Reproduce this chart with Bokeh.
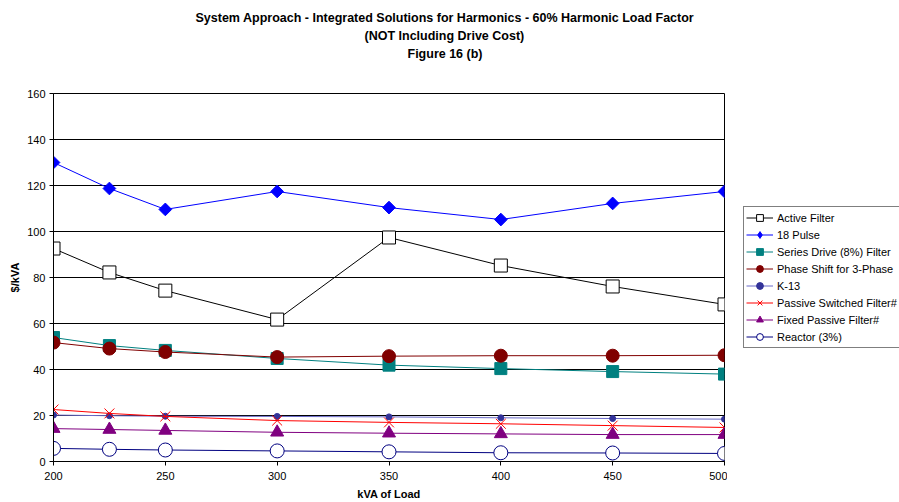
import math
from bokeh.plotting import figure
from bokeh.layouts import row
from bokeh.models import Legend, LegendItem, FixedTicker, Title
from bokeh.embed import file_html
from bokeh.resources import INLINE

kva = [200, 225, 250, 300, 350, 400, 450, 500]
active_filter = [92.6, 82.2, 74.3, 61.7, 97.4, 85.2, 76.1, 68.3]
pulse18 = [130.0, 118.7, 109.6, 117.4, 110.4, 105.2, 112.2, 117.4]
series_drive = [53.9, 50.4, 48.3, 44.8, 41.9, 40.4, 39.1, 38.0]
phase_shift = [51.7, 49.1, 47.6, 45.4, 45.8, 46.0, 46.0, 46.2]
k13 = [20.2, 19.9, 19.7, 19.6, 19.4, 19.0, 18.7, 18.4]
passive_switched = [22.6, 20.9, 19.6, 17.8, 17.0, 16.4, 15.6, 14.8]
fixed_passive = [14.3, 13.9, 13.5, 12.7, 12.3, 12.0, 11.7, 11.7]
reactor = [5.7, 5.3, 5.0, 4.6, 4.2, 3.8, 3.7, 3.5]

y_ticks = [0, 20, 40, 60, 80, 100, 120, 140, 160]
x_ticks = [200, 250, 300, 350, 400, 450, 500]

title_lines = [
    "System Approach - Integrated Solutions for Harmonics - 60% Harmonic Load Factor",
    "(NOT Including Drive Cost)",
    "Figure 16 (b)",
]
# horizontal offsets (px from frame left) so that each line is centred on the chart area
title_offsets = [142, 311, 354]

FONT = "Liberation Sans"

p = figure(width=727, height=502, x_range=(200, 500), y_range=(0, 160),
           output_backend="svg", toolbar_location=None,
           min_border_left=53, min_border_right=3, min_border_top=93,
           min_border_bottom=41, background_fill_color="white",
           border_fill_color="white", outline_line_color="black")

p.xgrid.grid_line_color = None
p.ygrid.grid_line_color = "black"
p.ygrid.grid_line_width = 1
p.ygrid.ticker = FixedTicker(ticks=y_ticks)
p.yaxis.ticker = FixedTicker(ticks=y_ticks)
p.xaxis.ticker = FixedTicker(ticks=x_ticks)
for ax in (p.xaxis[0], p.yaxis[0]):
    ax.axis_line_color = "black"
    ax.major_tick_line_color = "black"
    ax.major_tick_out = 4
    ax.major_tick_in = 0
    ax.minor_tick_line_color = None
    ax.major_label_text_font = FONT
    ax.major_label_text_font_size = "11px"
    ax.major_label_text_color = "black"
    ax.axis_label_text_font = FONT
    ax.axis_label_text_font_size = "11px"
    ax.axis_label_text_font_style = "bold"
    ax.axis_label_text_color = "black"
p.xaxis.axis_label = "kVA of Load"
p.yaxis.axis_label = "$/kVA"
p.yaxis.major_label_standoff = 4
p.yaxis.axis_label_standoff = 3
p.xaxis.major_label_standoff = 6
p.xaxis.axis_label_standoff = 5

# legend lives in a narrow companion figure to the right (its frame is aligned with p's frame)
lg = figure(width=172, height=502, x_range=(0, 1), y_range=(0, 1),
            output_backend="svg", toolbar_location=None, title=None,
            x_axis_type=None, y_axis_type=None,
            min_border_left=0, min_border_right=0, min_border_top=0,
            min_border_bottom=0, background_fill_color="white",
            border_fill_color="white", outline_line_color=None)
lg.xgrid.grid_line_color = None
lg.ygrid.grid_line_color = None

items = []

def add(label, ys, color, marker, size, fill, line_color=None, angle=0.0, legend_marker=None):
    p.line(kva, ys, line_color=line_color or color, line_width=1)
    p.scatter(kva, ys, marker=marker, size=size, fill_color=fill,
              line_color=color, line_width=1, angle=angle)
    # proxies (outside the companion's ranges) that only draw the legend glyphs
    ln = lg.line(kva, ys, line_color=line_color or color, line_width=1)
    sc = lg.scatter(kva, ys, marker=legend_marker or marker, size=size,
                    fill_color=fill, line_color=color, line_width=1)
    items.append(LegendItem(label=label, renderers=[ln, sc]))

add("Active Filter", active_filter, "black", "square", 13, "white")
add("18 Pulse", pulse18, "#0000FF", "square", 9, "#0000FF", angle=math.pi / 4,
    legend_marker="diamond")
add("Series Drive (8%) Filter", series_drive, "#008080", "square", 12, "#008080")
add("Phase Shift for 3-Phase", phase_shift, "#800000", "circle", 13, "#800000")
add("K-13", k13, "#333399", "circle", 6, "#333399", line_color="#6A6AC8")
add("Passive Switched Filter#", passive_switched, "#FF0000", "x", 14, "#FF0000")
add("Fixed Passive Filter#", fixed_passive, "#800080", "triangle", 13, "#800080")
add("Reactor (3%)", reactor, "#000080", "circle", 14, "white")

legend = Legend(items=items, location=(16, 113), orientation="vertical",
                border_line_color="black", border_line_width=1,
                background_fill_color="white", background_fill_alpha=1,
                label_text_font=FONT, label_text_font_size="11px",
                label_text_color="black", glyph_width=27, glyph_height=17,
                label_height=17, spacing=0, padding=2, margin=0,
                label_standoff=4)
lg.add_layout(legend, "center")

# blank spacer between plot frame and the title block
p.add_layout(Title(text=" ", standoff=16, text_font=FONT, text_font_size="12.5px",
                   text_color="white"), "above")

for t, off in reversed(list(zip(title_lines, title_offsets))):
    p.add_layout(Title(text=t, align="left", offset=off, standoff=2,
                       text_font=FONT, text_font_size="12.5px",
                       text_font_style="bold", text_color="black"), "above")

open("out.html", "w").write(file_html(row(p, lg), INLINE))
